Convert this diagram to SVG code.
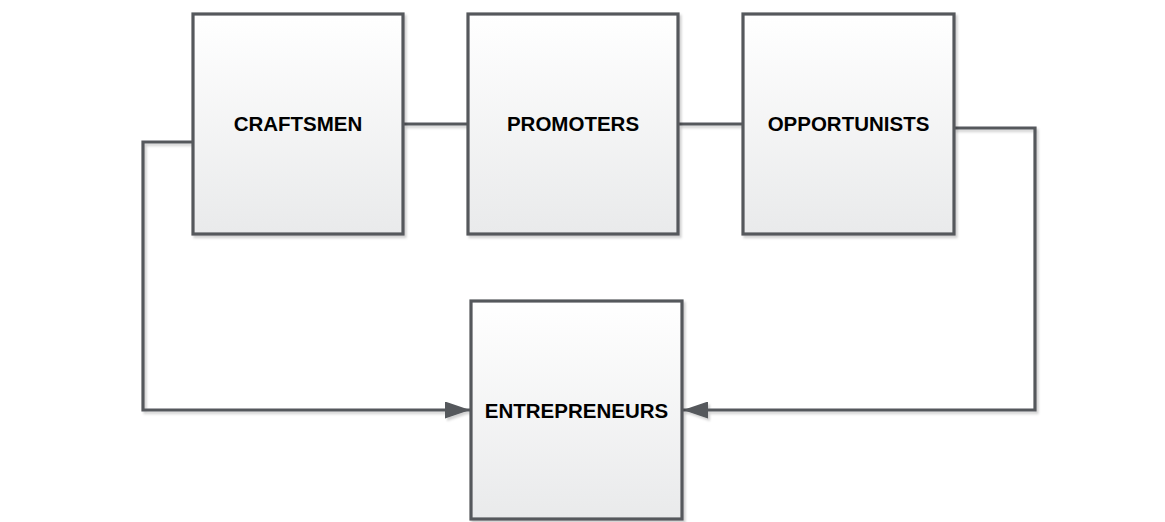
<svg xmlns="http://www.w3.org/2000/svg" width="1165" height="522" viewBox="0 0 1165 522">
<style>
.box{fill:url(#g);stroke:#55585c;stroke-width:3.2;filter:url(#sh)}
.lbl{font-family:"Liberation Sans",Arial,sans-serif;font-weight:bold;font-size:20.5px;fill:#000;text-anchor:middle}
.conn{fill:none;stroke:#55585c;stroke-width:3.2;filter:url(#sh)}
</style>
<defs>
<linearGradient id="g" x1="0" y1="0" x2="0" y2="1">
<stop offset="0" stop-color="#ffffff"/>
<stop offset="1" stop-color="#e9eaeb"/>
</linearGradient>
<filter id="sh" filterUnits="userSpaceOnUse" x="0" y="0" width="1165" height="522">
<feDropShadow dx="2" dy="2.5" stdDeviation="1" flood-color="#000" flood-opacity="0.18"/>
</filter>
<marker id="arr" viewBox="0 0 25 17" refX="25" refY="8.5" markerWidth="25" markerHeight="17" markerUnits="userSpaceOnUse" orient="auto">
<path d="M0,0 L25,8.5 L0,17 z" fill="#55585c"/>
</marker>
</defs>
<rect width="1165" height="522" fill="#fff"/>
<g id="connectors">
<path class="conn" d="M404,124 H468"/>
<path class="conn" d="M679,124 H743"/>
<path class="conn" d="M193,142 H143 V410 H470" marker-end="url(#arr)"/>
<path class="conn" d="M954,128 H1035 V410 H683" marker-end="url(#arr)"/>
</g>
<g id="craftsmen">
<rect class="box" x="193" y="14" width="210" height="220"/>
<text class="lbl" x="298" y="131">CRAFTSMEN</text>
</g>
<g id="promoters">
<rect class="box" x="468" y="14" width="210" height="220"/>
<text class="lbl" x="573" y="131">PROMOTERS</text>
</g>
<g id="opportunists">
<rect class="box" x="743" y="14" width="211" height="220"/>
<text class="lbl" x="848.5" y="131">OPPORTUNISTS</text>
</g>
<g id="entrepreneurs">
<rect class="box" x="471" y="301" width="211" height="218"/>
<text class="lbl" x="576.5" y="418">ENTREPRENEURS</text>
</g>
</svg>
